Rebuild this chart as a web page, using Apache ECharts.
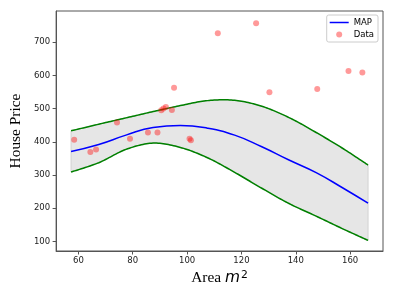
<!DOCTYPE html>
<html>
<head>
<meta charset="utf-8">
<script src="https://cdn.jsdelivr.net/npm/echarts@6/dist/echarts.min.js"></script>
<style>
  html, body { margin: 0; padding: 0; background: #fff; }
  #chart { width: 394px; height: 296px; }
</style>
</head>
<body>
<div id="chart"></div>
<script>
// Observed data points
const areaX  = [58.45, 64.4, 66.5, 74.2, 79.0, 85.6, 89.1, 90.5, 91.3, 92.2, 94.4, 95.2, 100.9, 101.4, 111.3, 125.4, 130.3, 147.9, 159.4, 164.5];
const priceY = [406, 369, 377, 458, 409, 428, 428, 495, 500, 505, 496, 563, 409, 405, 727, 757, 549, 559, 613, 609];

// Posterior curves
const curveX = [57.3, 67.5, 77.5, 87.5, 97.5, 107.5, 117.5, 127.5, 137.5, 147.5, 157.5, 166.6];
const mapY   = [371, 392, 420, 443, 449, 441, 420, 385, 345, 307, 260, 215];
const upperY = [433, 453, 472, 491, 509, 524, 525, 507, 473, 428, 379, 330];
const lowerY = [309, 337, 377, 396, 383, 352, 308, 260, 214, 176, 137, 103];

// Tick labels
const xTicks = [60, 80, 100, 120, 140, 160];
const yTicks = [100, 200, 300, 400, 500, 600, 700];

function spline(pts) {
  const out = [];
  const n = pts.length;
  for (let i = 0; i < n - 1; i++) {
    const p0 = pts[Math.max(i - 1, 0)], p1 = pts[i], p2 = pts[i + 1], p3 = pts[Math.min(i + 2, n - 1)];
    const c1 = [p1[0] + (p2[0] - p0[0]) / 6, p1[1] + (p2[1] - p0[1]) / 6];
    const c2 = [p2[0] - (p3[0] - p1[0]) / 6, p2[1] - (p3[1] - p1[1]) / 6];
    const steps = 16;
    for (let s = 0; s < steps; s++) {
      const t = s / steps, u = 1 - t;
      out.push([
        u*u*u*p1[0] + 3*u*u*t*c1[0] + 3*u*t*t*c2[0] + t*t*t*p2[0],
        u*u*u*p1[1] + 3*u*u*t*c1[1] + 3*u*t*t*c2[1] + t*t*t*p2[1]
      ]);
    }
  }
  out.push(pts[n - 1]);
  return out;
}

const chart = echarts.init(document.getElementById('chart'), null, { renderer: 'canvas' });
const axisFont = 'DejaVu Sans';
chart.setOption({
  animation: false,
  backgroundColor: '#fff',
  grid: { left: 50, top: 11, right: 11, bottom: 45, show: true, borderColor: '#555', borderWidth: 1, backgroundColor: 'transparent' },
  legend: {
    data: [
      { name: 'MAP', icon: 'path://M0,0 L19,0 L19,1.5 L0,1.5 Z' },
      { name: 'Data', icon: 'circle' }
    ],
    orient: 'vertical',
    right: 16, top: 15,
    padding: [3, 4, 3, 3],
    itemGap: 3, itemWidth: 19, itemHeight: 6,
    symbolKeepAspect: true,
    backgroundColor: 'rgba(255,255,255,0.8)',
    borderColor: '#ccc', borderWidth: 1, borderRadius: 2,
    textStyle: { fontFamily: axisFont, fontSize: 8.5, color: '#000' }
  },
  xAxis: {
    type: 'value', min: 51.8, max: 172.1,
    splitLine: { show: false },
    axisLine: { show: true, lineStyle: { color: '#555', width: 1 } },
    axisTick: { show: true, length: 3.5, customValues: xTicks, lineStyle: { color: '#555' } },
    axisLabel: { customValues: xTicks, fontFamily: axisFont, fontSize: 8.5, color: '#222', margin: 5 },
    name: '{a|Area }{m|m}{s|2}',
    nameLocation: 'middle', nameGap: 15,
    nameTextStyle: {
      rich: {
        a: { fontFamily: 'Liberation Serif', fontSize: 15.4, color: '#000' },
        m: { fontFamily: 'DejaVu Sans', fontStyle: 'italic', fontSize: 15.4, color: '#000' },
        s: { fontFamily: 'DejaVu Sans', fontSize: 10.8, color: '#000', verticalAlign: 'top', padding: [0, 0, 6, 1] }
      }
    }
  },
  yAxis: {
    type: 'value', min: 71, max: 794,
    splitLine: { show: false },
    axisLine: { show: true, lineStyle: { color: '#555', width: 1 } },
    axisTick: { show: true, length: 3.5, customValues: yTicks, lineStyle: { color: '#555' } },
    axisLabel: { customValues: yTicks, fontFamily: axisFont, fontSize: 8.5, color: '#222', margin: 6 },
    name: 'House Price',
    nameLocation: 'middle', nameGap: 30,
    nameTextStyle: { fontFamily: 'Liberation Serif', fontSize: 15.4, color: '#000' }
  },
  series: [
    {
      name: 'band',
      type: 'custom',
      silent: true,
      z: 1,
      data: [[curveX[0], upperY[0]]],
      renderItem: function (params, api) {
        if (params.dataIndex !== 0) return null;
        const up = spline(curveX.map((x, i) => api.coord([x, upperY[i]])));
        const lo = spline(curveX.map((x, i) => api.coord([x, lowerY[i]])));
        return {
          type: 'group',
          children: [
            { type: 'polygon', shape: { points: up.concat(lo.slice().reverse()) }, style: { fill: '#e6e6e6', stroke: '#d2d2d2', lineWidth: 1 } },
            { type: 'polyline', shape: { points: up }, style: { fill: null, stroke: '#008000', lineWidth: 1.5 } },
            { type: 'polyline', shape: { points: lo }, style: { fill: null, stroke: '#008000', lineWidth: 1.5 } }
          ]
        };
      }
    },
    {
      name: 'MAP',
      type: 'line',
      z: 3,
      smooth: true,
      symbol: 'none',
      data: curveX.map((x, i) => [x, mapY[i]]),
      lineStyle: { color: '#0000ff', width: 1.5 },
      itemStyle: { color: '#0000ff' }
    },
    {
      name: 'Data',
      type: 'scatter',
      z: 4,
      symbolSize: 6,
      data: areaX.map((x, i) => [x, priceY[i]]),
      itemStyle: { color: 'rgba(255,0,0,0.5)' }
    }
  ]
});
</script>
</body>
</html>
